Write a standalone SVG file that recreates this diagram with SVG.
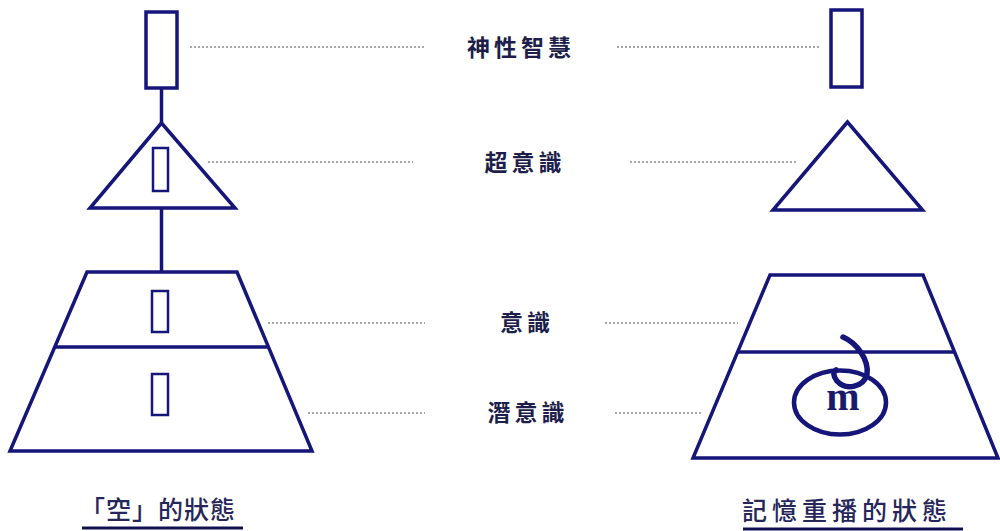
<svg xmlns="http://www.w3.org/2000/svg" width="1000" height="531" viewBox="0 0 1000 531">
<style>
.sh{fill:#fff;stroke:#15157a;stroke-width:3.5;stroke-linejoin:miter}
.sm{fill:#fff;stroke:#15157a;stroke-width:2.5}
.ln{stroke:#15157a;stroke-width:3.5;fill:none}
.dot{stroke:#8a8a8a;stroke-width:1.6;stroke-dasharray:2 2;fill:none}
.lb{font-family:"Noto Sans CJK TC","Noto Sans CJK SC",sans-serif;font-size:23px;font-weight:bold;fill:#1e1e4a;letter-spacing:4px}
.tt{font-family:"Noto Sans CJK TC","Noto Sans CJK SC",sans-serif;font-size:25px;font-weight:500;fill:#26265a}
.ul{stroke:#101050;stroke-width:3}
</style>
<rect width="1000" height="531" fill="#fff"/>
<g id="connectors">
<line class="ln" x1="161.5" y1="88" x2="161.5" y2="124"/>
<line class="ln" x1="161.5" y1="208" x2="161.5" y2="272"/>
<line class="dot" x1="190" y1="47" x2="425" y2="47"/>
<line class="dot" x1="617" y1="47" x2="820" y2="47"/>
<line class="dot" x1="208" y1="162" x2="413" y2="162"/>
<line class="dot" x1="630" y1="162" x2="798" y2="162"/>
<line class="dot" x1="268" y1="323" x2="425" y2="323"/>
<line class="dot" x1="605" y1="323" x2="738" y2="323"/>
<line class="dot" x1="308" y1="413" x2="425" y2="413"/>
<line class="dot" x1="615" y1="413" x2="703" y2="413"/>
</g>
<g id="left-wisdom"><rect class="sh" x="146" y="12" width="31" height="76"/></g>
<g id="left-super">
<polygon class="sh" points="161.5,123 90,208 235,208"/>
<rect class="sm" x="153" y="148" width="15" height="43"/>
</g>
<g id="left-mind">
<polygon class="sh" points="87,272 237,272 312,451 10,451"/>
<line class="ln" x1="55" y1="347" x2="268" y2="347"/>
<rect class="sm" x="152" y="291" width="16" height="41"/>
<rect class="sm" x="152" y="374" width="16" height="41"/>
</g>
<g id="right-wisdom"><rect class="sh" x="831" y="10" width="31" height="77"/></g>
<g id="right-super"><polygon class="sh" points="847.5,122 773,210 922.5,210"/></g>
<g id="right-mind">
<polygon class="sh" points="770,275 923,275 998,458 693,458"/>
<line class="ln" x1="738" y1="352" x2="955" y2="352"/>
<ellipse cx="840" cy="402.5" rx="46" ry="32" fill="none" stroke="#15157a" stroke-width="4.5"/>
<path d="M843,337 C857,343 869,360 867,374 C864,387 846,391 837,381 C833,376 833,372 836,370" fill="none" stroke="#15157a" stroke-width="5.5" stroke-linecap="round"/>
<text x="843" y="410" text-anchor="middle" font-family="Liberation Serif, serif" font-weight="bold" font-size="40" fill="#1a1a6a">m</text>
</g>
<g id="labels">
<text class="lb" x="521" y="56" text-anchor="middle">神性智慧</text>
<text class="lb" x="525" y="171" text-anchor="middle">超意識</text>
<text class="lb" x="527" y="331" text-anchor="middle">意識</text>
<text class="lb" x="528" y="421" text-anchor="middle">潛意識</text>
</g>
<g id="title-left">
<text class="tt" x="80" y="519" letter-spacing="1">「空」的狀態</text>
<line class="ul" x1="82" y1="528" x2="243" y2="528"/>
</g>
<g id="title-right">
<text class="tt" x="742" y="520" letter-spacing="5">記憶重播的狀態</text>
<line class="ul" x1="743" y1="529" x2="963" y2="529"/>
</g>
</svg>
